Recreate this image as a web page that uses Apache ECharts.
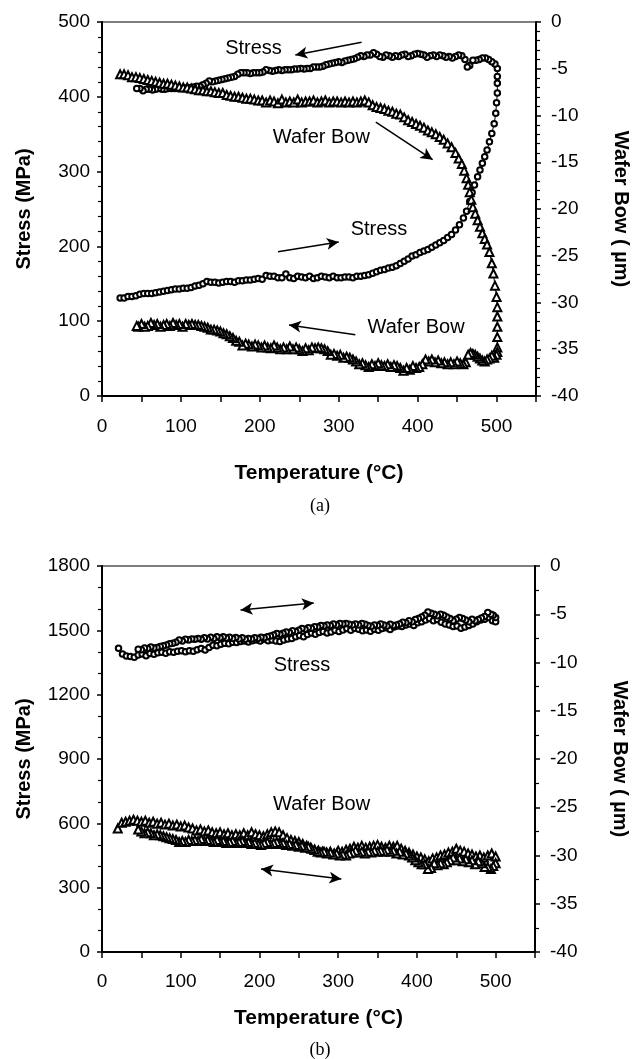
<!DOCTYPE html>
<html>
<head>
<meta charset="utf-8">
<script src="https://cdn.jsdelivr.net/npm/echarts@6/dist/echarts.min.js"></script>
<style>
  html, body { margin: 0; padding: 0; background: #fff; }
  #main { width: 632px; height: 1059px; }
</style>
</head>
<body>
<div id="main"></div>
<script>
// ---- panel (a): [temperature C, stress MPa] heating then cooling ----
var stressHeatA = [[23,131],[28,131],[33,133],[38,133],[43,134],[48,136],[53,137],[58,137],[63,137],[68,138],[73,139],[78,140],[83,141],[88,142],[93,143],[98,143],[103,144],[108,144],[113,145],[118,147],[123,148],[128,150],[133,153],[138,152],[143,152],[148,151],[153,152],[158,153],[163,153],[168,152],[173,154],[178,154],[183,155],[188,155],[193,156],[198,157],[203,156],[208,161],[213,160],[218,160],[223,158],[228,158],[233,163],[238,158],[243,157],[248,160],[253,159],[258,158],[263,160],[268,157],[273,158],[278,160],[283,159],[288,158],[293,160],[298,158],[303,158],[308,159],[313,159],[318,158],[323,160],[328,160],[333,161],[338,162],[343,164],[348,166],[353,168],[358,169],[363,171],[368,172],[373,174],[378,177],[383,180],[388,183],[393,187],[398,189],[403,192],[408,194],[413,196],[418,199],[423,202],[428,205],[433,208],[438,212],[443,216],[448,222],[453,229],[458,238],[462,247],[466,260],[469,272],[472,282],[476,293],[479,302],[482,311],[485,320],[488,329],[491,340],[494,351],[497,364],[499,378],[500,392],[501,405],[501,418],[501,427],[501,438]];
var stressCoolA = [[498,444],[494,447],[490,450],[486,452],[482,452],[478,450],[474,449],[470,449],[466,442],[463,440],[460,450],[456,455],[452,456],[448,454],[444,452],[440,454],[436,453],[432,455],[428,456],[424,454],[420,456],[416,455],[412,453],[408,456],[404,457],[400,458],[396,457],[392,455],[388,454],[384,457],[380,456],[376,454],[372,455],[368,453],[364,455],[360,456],[356,453],[352,454],[348,457],[344,459],[340,456],[336,456],[332,454],[328,455],[324,453],[320,451],[316,450],[312,449],[308,448],[304,446],[300,447],[296,446],[292,445],[288,444],[284,443],[280,441],[276,440],[272,440],[268,440],[264,438],[260,438],[256,437],[252,438],[248,437],[244,437],[240,436],[236,436],[232,436],[228,435],[224,436],[220,435],[216,434],[212,435],[208,436],[204,433],[200,432],[196,432],[192,432],[188,431],[184,432],[180,432],[176,432],[172,430],[168,427],[164,426],[160,425],[156,424],[152,423],[148,422],[144,421],[140,420],[136,421],[132,418],[128,416],[124,414],[120,414],[116,413],[112,412],[108,412],[104,411],[100,411],[96,411],[92,411],[88,411],[84,411],[80,410],[76,410],[72,411],[68,410],[64,409],[60,410],[56,410],[52,408],[48,411],[44,411]];
// [temperature C, wafer bow um]
var bowHeatA = [[23,-5.6],[28,-5.6],[33,-5.7],[38,-5.9],[43,-5.9],[48,-6.0],[53,-6.1],[58,-6.2],[63,-6.3],[68,-6.4],[73,-6.5],[78,-6.6],[83,-6.6],[88,-6.7],[93,-6.8],[98,-6.9],[103,-7.0],[108,-7.0],[113,-7.1],[118,-7.2],[123,-7.3],[128,-7.3],[133,-7.4],[138,-7.4],[143,-7.5],[148,-7.6],[153,-7.6],[158,-7.8],[163,-7.9],[168,-8.0],[173,-8.0],[178,-8.1],[183,-8.2],[188,-8.2],[193,-8.3],[198,-8.4],[203,-8.4],[208,-8.6],[213,-8.4],[218,-8.5],[223,-8.7],[228,-8.3],[233,-8.6],[238,-8.5],[243,-8.6],[248,-8.3],[253,-8.6],[258,-8.5],[263,-8.5],[268,-8.4],[273,-8.6],[278,-8.5],[283,-8.4],[288,-8.6],[293,-8.5],[298,-8.5],[303,-8.6],[308,-8.5],[313,-8.6],[318,-8.5],[323,-8.6],[328,-8.5],[333,-8.4],[338,-8.6],[343,-8.9],[348,-9.1],[353,-9.2],[358,-9.3],[363,-9.5],[368,-9.6],[373,-9.8],[378,-9.9],[383,-10.2],[388,-10.5],[393,-10.7],[398,-10.9],[403,-11.1],[408,-11.3],[413,-11.6],[418,-11.8],[423,-12.0],[428,-12.3],[433,-12.6],[438,-13.0],[443,-13.4],[448,-14.0],[452,-14.6],[456,-15.2],[459,-15.9],[462,-16.7],[464,-17.4],[466,-18.2],[468,-19.0],[470,-19.8],[473,-20.5],[476,-21.2],[479,-21.9],[482,-22.6],[485,-23.2],[488,-23.8],[491,-24.6],[494,-25.8],[496,-26.9],[498,-28.2],[500,-29.4],[501,-30.5],[501,-31.5],[501,-32.6],[501,-33.7],[501,-34.8],[501,-35.3]];
var bowCoolA = [[500,-35.6],[497,-35.9],[494,-35.7],[491,-36.0],[488,-36.1],[485,-36.3],[482,-36.2],[479,-36.0],[476,-35.8],[473,-35.6],[470,-35.5],[467,-35.4],[464,-35.6],[461,-36.4],[458,-36.6],[454,-36.5],[450,-36.3],[446,-36.6],[442,-36.4],[438,-36.6],[434,-36.4],[430,-36.5],[426,-36.2],[422,-36.4],[418,-36.1],[414,-36.3],[410,-36.1],[406,-36.6],[402,-36.9],[398,-37.0],[394,-36.8],[390,-37.2],[386,-37.0],[382,-37.3],[378,-37.0],[374,-36.8],[370,-36.7],[366,-36.9],[362,-36.6],[358,-36.8],[354,-36.7],[350,-36.5],[346,-36.8],[342,-36.6],[338,-36.9],[334,-36.7],[330,-36.5],[326,-36.6],[322,-36.3],[318,-36.1],[314,-35.9],[310,-35.8],[306,-35.9],[302,-35.6],[298,-35.7],[294,-35.5],[290,-35.6],[286,-35.2],[282,-35.0],[278,-34.9],[274,-34.8],[270,-34.9],[266,-34.8],[262,-35.1],[258,-34.9],[254,-35.2],[250,-35.0],[246,-34.8],[242,-35.0],[238,-34.7],[234,-35.0],[230,-34.8],[226,-35.0],[222,-34.8],[218,-34.6],[214,-34.9],[210,-34.8],[206,-34.6],[202,-34.8],[198,-34.6],[194,-34.5],[190,-34.7],[186,-34.5],[182,-34.4],[178,-34.6],[174,-34.2],[170,-34.1],[166,-33.8],[162,-33.6],[158,-33.4],[154,-33.3],[150,-33.1],[146,-33.0],[142,-32.9],[138,-32.9],[134,-32.7],[130,-32.6],[126,-32.5],[122,-32.4],[118,-32.4],[114,-32.3],[110,-32.4],[106,-32.3],[102,-32.6],[98,-32.3],[94,-32.4],[90,-32.2],[86,-32.5],[82,-32.3],[78,-32.4],[74,-32.6],[70,-32.3],[66,-32.4],[62,-32.2],[58,-32.5],[54,-32.6],[50,-32.3],[46,-32.6],[44,-32.5]];

// ---- panel (b) ----
var stressHeatB = [[21,1417],[26,1390],[31,1380],[36,1378],[41,1375],[46,1385],[51,1390],[56,1382],[61,1392],[66,1388],[71,1395],[76,1398],[81,1393],[86,1400],[91,1398],[96,1402],[101,1405],[106,1400],[111,1405],[116,1403],[121,1410],[126,1415],[131,1408],[136,1420],[141,1430],[146,1428],[151,1435],[156,1440],[161,1438],[166,1445],[171,1443],[176,1448],[181,1450],[186,1446],[191,1452],[196,1455],[201,1450],[206,1458],[211,1452],[216,1455],[221,1450],[226,1448],[231,1455],[236,1460],[241,1462],[246,1470],[251,1476],[256,1470],[261,1480],[266,1488],[271,1482],[276,1490],[281,1495],[286,1488],[291,1492],[296,1500],[301,1495],[306,1502],[311,1508],[316,1500],[321,1510],[326,1505],[331,1498],[336,1502],[341,1496],[346,1505],[351,1500],[356,1508],[361,1512],[366,1504],[371,1515],[376,1520],[381,1518],[386,1525],[391,1530],[396,1522],[401,1535],[406,1540],[411,1548],[416,1555],[421,1545],[426,1550],[431,1538],[436,1530],[441,1525],[446,1518],[451,1520],[456,1510],[461,1515],[466,1522],[471,1530],[476,1540],[481,1548],[486,1552],[491,1560],[496,1545],[500,1540]];
var stressCoolB = [[500,1560],[497,1570],[494,1575],[490,1583],[486,1565],[482,1558],[478,1550],[474,1545],[470,1552],[466,1540],[462,1548],[458,1555],[454,1560],[450,1552],[446,1545],[442,1555],[438,1562],[434,1570],[430,1575],[426,1568],[422,1575],[418,1580],[414,1585],[410,1570],[406,1562],[402,1555],[398,1550],[394,1540],[390,1545],[386,1535],[382,1538],[378,1530],[374,1525],[370,1522],[366,1528],[362,1520],[358,1525],[354,1530],[350,1522],[346,1525],[342,1518],[338,1522],[334,1528],[330,1532],[326,1525],[322,1530],[318,1525],[314,1528],[310,1532],[306,1530],[302,1532],[298,1525],[294,1530],[290,1522],[286,1525],[282,1520],[278,1523],[274,1515],[270,1517],[266,1510],[262,1512],[258,1505],[254,1508],[250,1500],[246,1495],[242,1498],[238,1490],[234,1492],[230,1486],[226,1482],[222,1485],[218,1478],[214,1474],[210,1470],[206,1465],[202,1468],[198,1462],[194,1465],[190,1460],[186,1462],[182,1458],[178,1465],[174,1460],[170,1466],[166,1462],[162,1468],[158,1464],[154,1470],[150,1465],[146,1470],[142,1462],[138,1468],[134,1460],[130,1465],[126,1458],[122,1462],[118,1458],[114,1460],[110,1455],[106,1458],[102,1450],[98,1455],[94,1445],[90,1440],[86,1438],[82,1432],[78,1428],[74,1425],[70,1420],[66,1418],[62,1422],[58,1415],[54,1418],[50,1410],[46,1412]];
var bowHeatB = [[20,-27.2],[25,-26.6],[30,-26.5],[35,-26.4],[40,-26.3],[45,-26.4],[50,-26.5],[55,-26.4],[60,-26.6],[65,-26.5],[70,-26.7],[75,-26.6],[80,-26.8],[85,-26.7],[90,-26.9],[95,-26.8],[100,-27.0],[105,-26.9],[110,-27.1],[115,-27.2],[120,-27.4],[125,-27.3],[130,-27.5],[135,-27.4],[140,-27.6],[145,-27.7],[150,-27.6],[155,-27.8],[160,-27.7],[165,-27.9],[170,-27.8],[175,-27.9],[180,-27.7],[185,-27.9],[190,-27.6],[195,-27.8],[200,-27.9],[205,-28.0],[210,-27.8],[215,-27.6],[220,-27.5],[225,-27.6],[230,-27.9],[235,-28.2],[240,-28.4],[245,-28.5],[250,-28.6],[255,-28.8],[260,-29.0],[265,-29.2],[270,-29.4],[275,-29.5],[280,-29.6],[285,-29.7],[290,-29.6],[295,-29.8],[300,-29.5],[305,-29.6],[310,-29.4],[315,-29.3],[320,-29.1],[325,-29.2],[330,-29.0],[335,-29.2],[340,-29.1],[345,-29.0],[350,-28.9],[355,-29.1],[360,-29.2],[365,-29.0],[370,-29.1],[375,-29.0],[380,-29.3],[385,-29.5],[390,-29.7],[395,-29.9],[400,-30.1],[405,-30.2],[410,-30.4],[415,-30.6],[420,-30.3],[425,-30.2],[430,-30.0],[435,-29.9],[440,-29.7],[445,-29.6],[450,-29.3],[455,-29.5],[460,-29.6],[465,-29.8],[470,-29.9],[475,-30.1],[480,-30.0],[485,-30.2],[490,-30.0],[495,-29.8],[500,-30.1]];
var bowCoolB = [[500,-30.8],[497,-31.1],[494,-31.4],[490,-31.2],[486,-31.2],[482,-30.8],[478,-30.6],[474,-30.9],[470,-30.5],[466,-30.7],[462,-30.4],[458,-30.6],[454,-30.3],[450,-30.5],[446,-30.2],[442,-30.5],[438,-30.7],[434,-30.9],[430,-30.8],[426,-31.0],[422,-30.8],[418,-31.3],[414,-31.4],[410,-30.9],[406,-30.9],[402,-30.7],[398,-30.5],[394,-30.2],[390,-30.0],[386,-29.8],[382,-29.9],[378,-29.6],[374,-29.8],[370,-29.5],[366,-29.6],[362,-29.4],[358,-29.6],[354,-29.5],[350,-29.6],[346,-29.5],[342,-29.7],[338,-29.6],[334,-29.8],[330,-29.6],[326,-29.7],[322,-29.5],[318,-29.7],[314,-29.8],[310,-30.0],[306,-29.9],[302,-30.0],[298,-29.8],[294,-29.9],[290,-29.7],[286,-29.8],[282,-29.6],[278,-29.7],[274,-29.6],[270,-29.4],[266,-29.3],[262,-29.1],[258,-29.2],[254,-29.0],[250,-29.1],[246,-28.9],[242,-29.0],[238,-28.8],[234,-28.9],[230,-28.7],[226,-28.8],[222,-28.6],[218,-28.7],[214,-28.8],[210,-28.6],[206,-28.7],[202,-28.9],[198,-28.8],[194,-28.7],[190,-28.8],[186,-28.6],[182,-28.7],[178,-28.5],[174,-28.6],[170,-28.7],[166,-28.5],[162,-28.6],[158,-28.7],[154,-28.5],[150,-28.6],[146,-28.4],[142,-28.6],[138,-28.5],[134,-28.4],[130,-28.5],[126,-28.3],[122,-28.5],[118,-28.4],[114,-28.5],[110,-28.4],[106,-28.6],[102,-28.5],[98,-28.6],[94,-28.4],[90,-28.3],[86,-28.2],[82,-28.1],[78,-28.0],[74,-27.9],[70,-27.8],[66,-27.9],[62,-27.7],[58,-27.6],[54,-27.7],[50,-27.5],[46,-27.3]];

// annotations, in (temperature, stress) units of each panel
var notesA = [['Stress', 192, 465], ['Wafer Bow', 278, 345], ['Stress', 351, 222], ['Wafer Bow', 398, 91]];
var arrowsA = [[[329, 473], [245, 456]], [[347, 366], [419, 316]], [[223, 193], [300, 206]], [[321, 82], [237, 95]]];
var notesB = [['Stress', 254, 1338], ['Wafer Bow', 279, 690]];
var arrowsB = [[[176, 1595], [269, 1627]], [[202, 387], [304, 340]]];

var font = 'Liberation Sans, Arial, sans-serif';
var chart = echarts.init(document.getElementById('main'));

function plain(v) { return String(v); }

function xAxisFor(grid, nameGap, margin) {
  return {
    gridIndex: grid, type: 'value', min: 0, max: 550, interval: 50,
    name: 'Temperature (°C)', nameLocation: 'middle', nameGap: nameGap,
    nameTextStyle: { fontFamily: font, fontSize: 21, fontWeight: 'bold', color: '#000' },
    axisLine: { lineStyle: { color: '#000', width: 2 } },
    axisTick: { length: 6, lineStyle: { color: '#000', width: 1.5 } },
    axisLabel: {
      margin: margin, fontFamily: font, fontSize: 19, color: '#000',
      formatter: function (v) { return (v % 100 === 0 && v <= 500) ? String(v) : ''; }
    },
    splitLine: { show: false }
  };
}
function leftAxisFor(grid, max, interval, minorSplit) {
  return {
    gridIndex: grid, type: 'value', position: 'left', min: 0, max: max, interval: interval,
    name: 'Stress (MPa)', nameLocation: 'middle', nameGap: 68,
    nameTextStyle: { fontFamily: font, fontSize: 20, fontWeight: 'bold', color: '#000' },
    axisLine: { show: true, lineStyle: { color: '#000', width: 2 } },
    axisTick: { show: true, length: 5, lineStyle: { color: '#000', width: 1.5 } },
    minorTick: { show: true, splitNumber: minorSplit, length: 4, lineStyle: { color: '#000', width: 1.2 } },
    axisLabel: { margin: 12, fontFamily: font, fontSize: 19, color: '#000', formatter: plain },
    splitLine: { show: false }
  };
}
function rightAxisFor(grid, minorSplit) {
  return {
    gridIndex: grid, type: 'value', position: 'right', min: -40, max: 0, interval: 5,
    name: 'Wafer Bow ( µm)', nameLocation: 'middle', nameGap: 75, nameRotate: -90,
    nameTextStyle: { fontFamily: font, fontSize: 20, fontWeight: 'bold', color: '#000' },
    axisLine: { show: true, lineStyle: { color: '#000', width: 2 } },
    axisTick: { show: true, length: 5, lineStyle: { color: '#000', width: 1.5 } },
    minorTick: { show: true, splitNumber: minorSplit, length: 4, lineStyle: { color: '#000', width: 1.2 } },
    axisLabel: { margin: 15, fontFamily: font, fontSize: 19, color: '#000', formatter: plain },
    splitLine: { show: false }
  };
}
function dataSeries(name, x, y, data, symbol, size) {
  return {
    name: name, type: 'line', xAxisIndex: x, yAxisIndex: y, data: data,
    symbol: symbol, symbolSize: size, showAllSymbol: true,
    lineStyle: { color: '#000', width: 1 },
    itemStyle: { color: '#000', borderWidth: 1 }
  };
}
function notes(list, arrows, bothEnds) {
  return {
    markLine: {
      silent: true, animation: false,
      symbol: bothEnds ? ['arrow', 'arrow'] : ['none', 'arrow'], symbolSize: [9, 12],
      label: { show: false },
      lineStyle: { color: '#000', width: 1.5, type: 'solid' },
      data: arrows.map(function (a) { return [{ coord: a[0] }, { coord: a[1] }]; })
    },
    markPoint: {
      silent: true, animation: false, symbol: 'rect', symbolSize: 1,
      itemStyle: { color: 'rgba(0,0,0,0)' },
      label: { show: true, position: 'inside', formatter: '{b}', color: '#000', fontFamily: font, fontSize: 20 },
      data: list.map(function (n) { return { name: n[0], coord: [n[1], n[2]] }; })
    }
  };
}

var stressA = dataSeries('Stress', 0, 0, stressHeatA.concat(stressCoolA), 'emptyCircle', 5.5);
Object.assign(stressA, notes(notesA, arrowsA, false));
var stressB = dataSeries('Stress', 1, 2, stressHeatB.concat(stressCoolB), 'emptyCircle', 5.5);
Object.assign(stressB, notes(notesB, arrowsB, true));

var options = {
  animation: false,
  backgroundColor: '#fff',
  grid: [
    { left: 102, right: 96, top: 22, height: 374, outerBoundsMode: 'none', show: true, borderColor: '#000', borderWidth: 1.2 },
    { left: 102, right: 97, top: 566, height: 386, outerBoundsMode: 'none', show: true, borderColor: '#000', borderWidth: 1.2 }
  ],
  xAxis: [xAxisFor(0, 67, 21), xAxisFor(1, 56, 20)],
  yAxis: [leftAxisFor(0, 500, 100, 5), rightAxisFor(0, 5), leftAxisFor(1, 1800, 300, 3), rightAxisFor(1, 2)],
  series: [
    stressA,
    dataSeries('Wafer Bow', 0, 1, bowHeatA.concat(bowCoolA), 'emptyTriangle', 8),
    stressB,
    dataSeries('Wafer Bow', 1, 3, bowHeatB.concat(bowCoolB), 'emptyTriangle', 8)
  ],
  graphic: [
    { type: 'text', x: 320, y: 506, style: { text: '(a)', textAlign: 'center', textVerticalAlign: 'middle', font: '18px Liberation Serif', fill: '#000' } },
    { type: 'text', x: 320, y: 1050, style: { text: '(b)', textAlign: 'center', textVerticalAlign: 'middle', font: '18px Liberation Serif', fill: '#000' } }
  ]
};
chart.setOption(options);
</script>
</body>
</html>
